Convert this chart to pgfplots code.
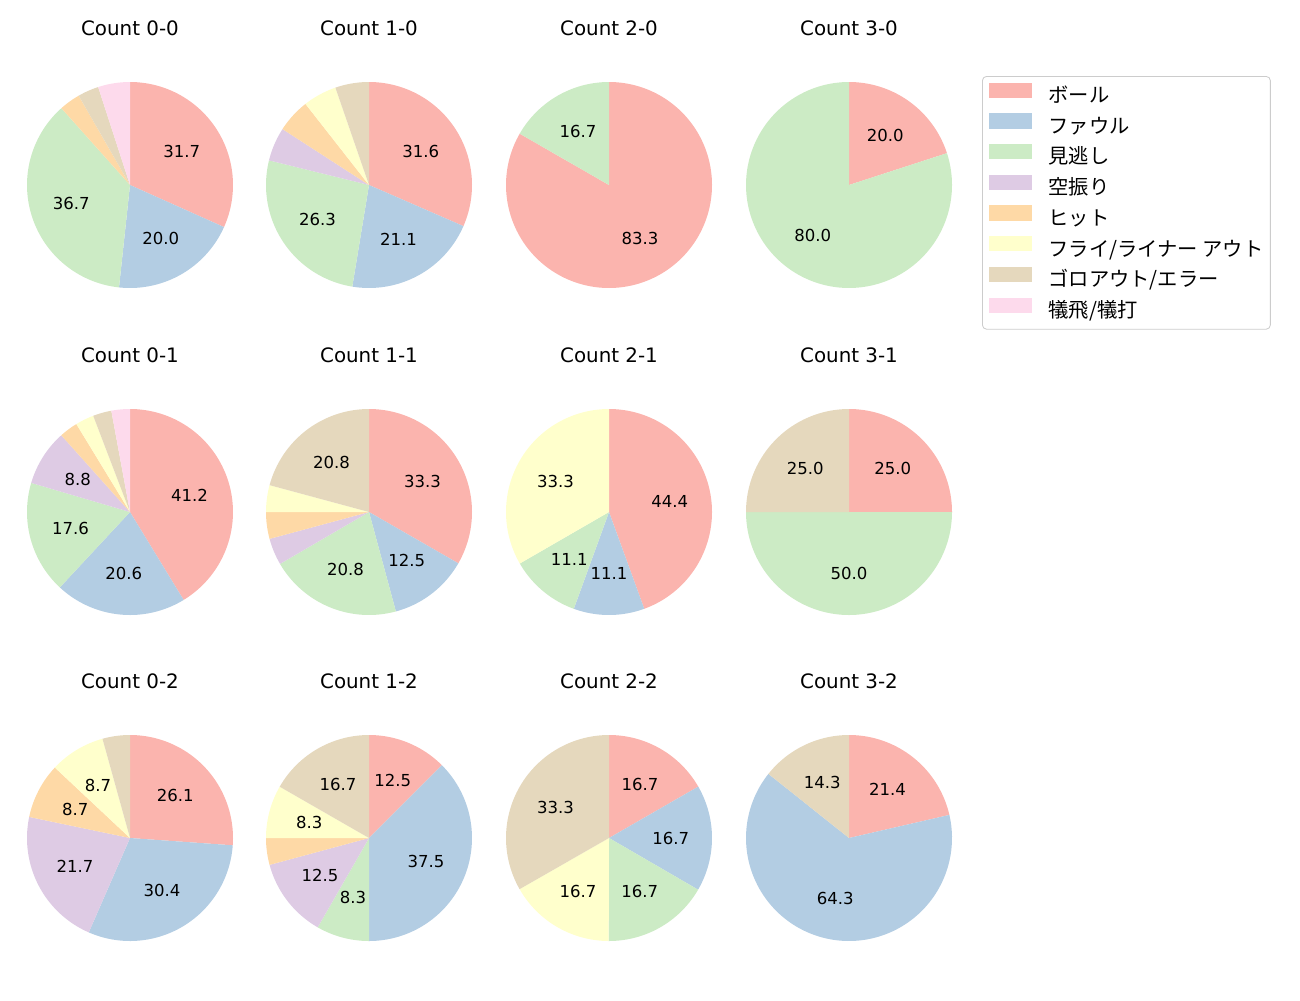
\documentclass[border=0pt]{standalone}
\usepackage{fontspec}
\setmainfont{DejaVu Sans}
\newfontfamily\jp{Noto Sans CJK JP}
\usepackage{pgfplots}
\pgfplotsset{compat=1.18}

% Pastel1 colours, one per outcome
\definecolor{pie1}{HTML}{FBB4AE}
\definecolor{pie2}{HTML}{B3CDE3}
\definecolor{pie3}{HTML}{CCEBC5}
\definecolor{pie4}{HTML}{DECBE4}
\definecolor{pie5}{HTML}{FED9A6}
\definecolor{pie6}{HTML}{FFFFCC}
\definecolor{pie7}{HTML}{E5D8BD}
\definecolor{pie8}{HTML}{FDDAEC}

\pgfplotsset{
    pie/.style={
        hide axis, clip=false, scale only axis,
        width=148.32pt, height=148.32pt,
        xmin=-1, xmax=1, ymin=-1, ymax=1,
        anchor=center,
        title style={at={(0.5,1)}, anchor=center, yshift=32.4pt,
            font=\fontsize{14.3pt}{17pt}\selectfont}
    }
}

% #1,#2 centre in px, #3 title, #4 shares (ボール ... 犠飛/犠打) in percent
\newcommand\piechart[4]{%
    \begin{axis}[pie, at={(#1*0.72pt,-#2*0.72pt)}, title={#3}]
        \gdef\total{0}
        \foreach \v in {#4}{\pgfmathsetmacro\t{\total+\v}\xdef\total{\t}}
        \gdef\cum{0}
        \gdef\labels{}
        \foreach \v [count=\i] in {#4}{
            \ifdim\v pt>0pt
                \pgfmathsetmacro\a{90-360*(\cum/\total)}
                \pgfmathsetmacro\b{90-360*((\cum+\v)/\total)}
                \pgfmathsetmacro\nsamp{int(max(2,ceil((\a-\b)/2)+1))}
                \edef\temp{\noexpand\addplot[draw=none, fill=pie\i, domain=\b:\a, samples=\nsamp]
                    ({cos(x)},{sin(x)}) -- (axis cs:0,0) -- cycle;}
                \temp
                \ifdim\v pt>6pt
                    \pgfmathsetmacro\m{(\a+\b)/2}
                    \pgfmathsetmacro\lx{0.6*cos(\m)}
                    \pgfmathsetmacro\ly{0.6*sin(\m)}
                    \xdef\labels{\labels (\lx,\ly) [\v]}
                \fi
            \fi
            \pgfmathsetmacro\t{\cum+\v}\xdef\cum{\t}
        }
        \edef\temp{\noexpand\addplot[draw=none, mark=none,
            point meta=explicit symbolic,
            nodes near coords={\noexpand\pgfplotspointmeta},
            nodes near coords style={anchor=center, inner sep=0pt,
                font=\noexpand\fontsize{11.9pt}{14pt}\noexpand\selectfont}]
            coordinates {\labels};}
        \temp
    \end{axis}}

\begin{document}
\begin{tikzpicture}
\path[use as bounding box] (0,0) rectangle (936pt,-720pt);

\piechart{130}{185}{Count 0-0}{31.7,20.0,36.7,0,3.3,0,3.3,5.0}
\piechart{369}{185}{Count 1-0}{31.6,21.1,26.3,5.3,5.3,5.3,5.3,0}
\piechart{609}{185}{Count 2-0}{83.3,0,16.7,0,0,0,0,0}
\piechart{849}{185}{Count 3-0}{20.0,0,80.0,0,0,0,0,0}

\piechart{130}{512}{Count 0-1}{41.2,20.6,17.6,8.8,2.9,2.9,2.9,2.9}
\piechart{369}{512}{Count 1-1}{33.3,12.5,20.8,4.2,4.2,4.2,20.8,0}
\piechart{609}{512}{Count 2-1}{44.4,11.1,11.1,0,0,33.3,0,0}
\piechart{849}{512}{Count 3-1}{25.0,0,50.0,0,0,0,25.0,0}

\piechart{130}{838}{Count 0-2}{26.1,30.4,0,21.7,8.7,8.7,4.3,0}
\piechart{369}{838}{Count 1-2}{12.5,37.5,8.3,12.5,4.2,8.3,16.7,0}
\piechart{609}{838}{Count 2-2}{16.7,16.7,16.7,0,0,16.7,33.3,0}
\piechart{849}{838}{Count 3-2}{21.4,64.3,0,0,0,0,14.3,0}

% legend
\begin{axis}[
    hide axis, scale only axis, width=10pt, height=10pt,
    xmin=0, xmax=1, ymin=0, ymax=1,
    at={(982*0.72pt,-76*0.72pt)}, anchor=north west,
    legend style={
        at={(0,1)}, anchor=north west,
        draw=black!20, line width=0.6pt, rounded corners=3pt, fill=white,
        inner xsep=5pt, inner ysep=4.5pt, row sep=3.8pt,
        cells={anchor=west},
        font=\jp\fontsize{14.6pt}{17pt}\selectfont,
        nodes={inner sep=0pt, text height=11pt, text depth=4pt},
        /tikz/every odd column/.style={column sep=12pt}
    },
    legend image code/.code={\fill[#1, sharp corners] (0pt,0.3pt) rectangle (30pt,10.5pt);}
]
\addlegendimage{pie1}\addlegendentry{ボール}
\addlegendimage{pie2}\addlegendentry{ファウル}
\addlegendimage{pie3}\addlegendentry{見逃し}
\addlegendimage{pie4}\addlegendentry{空振り}
\addlegendimage{pie5}\addlegendentry{ヒット}
\addlegendimage{pie6}\addlegendentry{フライ/ライナー アウト}
\addlegendimage{pie7}\addlegendentry{ゴロアウト/エラー}
\addlegendimage{pie8}\addlegendentry{犠飛/犠打}
\end{axis}
\end{tikzpicture}
\end{document}
